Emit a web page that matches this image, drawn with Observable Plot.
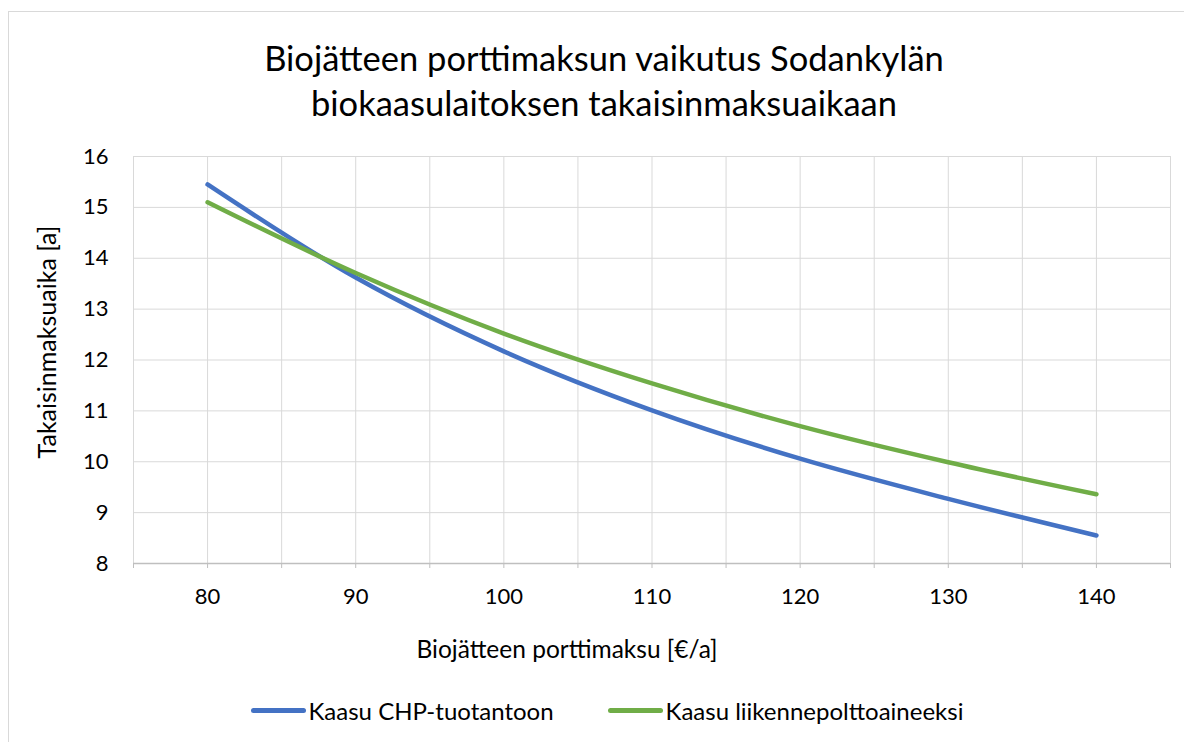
<!DOCTYPE html>
<html>
<head>
<meta charset="utf-8">
<script src="https://cdn.jsdelivr.net/npm/d3@7"></script>
<script src="https://cdn.jsdelivr.net/npm/@observablehq/plot@0.6"></script>
<style>
  html, body { margin: 0; padding: 0; background: #fff; }
  #wrap { position: relative; width: 1184px; height: 742px; overflow: hidden; font-family: Lato, "Open Sans", sans-serif; color: #000; }
  #frame { position: absolute; left: 8px; top: 11px; width: 1300px; height: 900px; border: 1.5px solid #d9d9d9; box-sizing: border-box; }
  #title { position: absolute; left: 0; width: 1208px; top: 35px; text-align: center; font-size: 34.5px; line-height: 45px; }
  #chart { position: absolute; left: 0; top: 0; }
  #legend { position: absolute; left: 0; top: 696px; width: 1214px; display: flex; justify-content: center; align-items: center; font-size: 24px; }
  .item { display: flex; align-items: center; margin: 0 27px; }
  .sw { width: 55px; height: 5px; border-radius: 3px; margin-right: 3px; }
</style>
</head>
<body>
<div id="wrap">
  <div id="frame"></div>
  <div id="chart"></div>
  <div id="title"></div>
  <div id="legend"></div>
</div>
<script>
const titleLines = ["Biojätteen porttimaksun vaikutus Sodankylän", "biokaasulaitoksen takaisinmaksuaikaan"];
const xLabel = "Biojätteen porttimaksu [€/a]";
const yLabel = "Takaisinmaksuaika [a]";
const fees = [80, 90, 100, 110, 120, 130, 140];
const seriesNames = ["Kaasu CHP-tuotantoon", "Kaasu liikennepolttoaineeksi"];
const seriesColors = ["#4472C4", "#70AD47"];
const chp = [15.45, 13.62, 12.17, 11.01, 10.06, 9.27, 8.55];
const liikenne = [15.10, 13.71, 12.52, 11.54, 10.70, 9.99, 9.36];
const yTicks = [8, 9, 10, 11, 12, 13, 14, 15, 16];
const xTicks = [80, 90, 100, 110, 120, 130, 140];
const xGrid = d3.range(75, 150, 5);

const data = [];
fees.forEach((f, i) => {
  data.push({fee: f, value: chp[i], series: seriesNames[0]});
  data.push({fee: f, value: liikenne[i], series: seriesNames[1]});
});

document.getElementById("title").innerHTML = titleLines.join("<br>");

const plot = Plot.plot({
  width: 1184,
  height: 742,
  marginLeft: 133,
  marginRight: 14,
  marginTop: 156,
  marginBottom: 179,
  style: {fontFamily: "Lato, 'Open Sans', sans-serif", fontSize: "22px", color: "#000", background: "transparent", overflow: "visible"},
  x: {domain: [75, 145]},
  y: {domain: [8, 16]},
  color: {domain: seriesNames, range: seriesColors},
  marks: [
    Plot.gridX(xGrid, {stroke: "#d9d9d9", strokeOpacity: 1, strokeWidth: 1}),
    Plot.gridY(yTicks, {stroke: "#d9d9d9", strokeOpacity: 1, strokeWidth: 1}),
    Plot.ruleY([8], {stroke: "#bfbfbf", strokeWidth: 1.5}),
    Plot.axisX(xGrid, {tickSize: 5, text: null, stroke: "#bfbfbf", label: null}),
    Plot.axisX(xTicks, {tickSize: 0, tickPadding: 25, label: null, fontSize: 22, tickFormat: "d"}),
    Plot.axisY(yTicks, {tickSize: 0, tickPadding: 25, label: null, fontSize: 22, tickFormat: "d"}),
    Plot.text([yLabel], {frameAnchor: "left", textAnchor: "middle", dx: -86, dy: -18, rotate: -90, fontSize: 25}),
    Plot.text([xLabel], {frameAnchor: "bottom", dx: -85, dy: 94, fontSize: 24.5}),
    Plot.line(data, {x: "fee", y: "value", stroke: "series", z: "series", strokeWidth: 4.5, curve: "catmull-rom", strokeLinecap: "round", strokeLinejoin: "round"})
  ]
});
document.getElementById("chart").appendChild(plot);

const legend = document.getElementById("legend");
seriesNames.forEach((n, i) => {
  const it = document.createElement("div");
  it.className = "item";
  it.innerHTML = `<span class="sw" style="background:${seriesColors[i]}"></span><span>${n}</span>`;
  legend.appendChild(it);
});
</script>
</body>
</html>
